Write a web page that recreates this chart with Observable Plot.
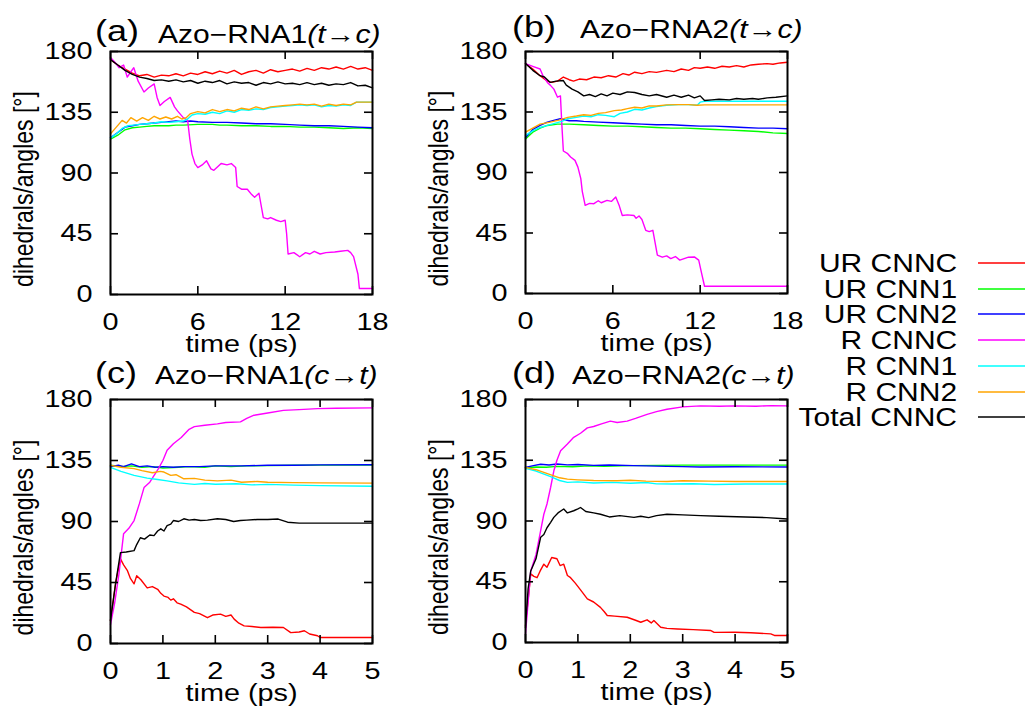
<!DOCTYPE html>
<html><head><meta charset="utf-8">
<script src="https://cdn.jsdelivr.net/npm/d3@7"></script>
<script src="https://cdn.jsdelivr.net/npm/@observablehq/plot@0.6"></script>
<style>
body{margin:0;background:#fff;}
#fig{position:relative;width:1025px;height:707px;overflow:hidden;background:#fff;font-family:"Liberation Sans",Arial,sans-serif;color:#000;}
#fig svg{position:absolute;overflow:visible;}
.t{position:absolute;white-space:nowrap;line-height:1;transform-origin:left top;transform:scaleX(1.2);}
.lg{position:absolute;white-space:nowrap;line-height:1;font-size:25px;transform-origin:right top;transform:scaleX(1.2);text-align:right;}
</style></head><body><div id="fig"></div>
<script>
// ---------- categories / labels ----------
const seriesNames = ["UR CNNC","UR CNN1","UR CNN2","R CNNC","R CNN1","R CNN2","Total CNNC"];
const panelTags = ["(a)","(b)","(c)","(d)"];
const panelTitles = ["Azo\u2212RNA1","Azo\u2212RNA2","Azo\u2212RNA1","Azo\u2212RNA2"];
const panelDirs = ["(t\u2192c)","(t\u2192c)","(c\u2192t)","(c\u2192t)"];
const xTicksTC = [0,6,12,18];
const xTicksCT = [0,1,2,3,4,5];
const yTicks = [0,45,90,135,180];
const yLabel = "dihedrals/angles [\u00b0]";
const xLabel = "time (ps)";

// ---------- panel (a) Azo-RNA1 t->c : [time ps, degrees] ----------
const a_UR_CNNC = [[0,174],[0.5,170],[1,167],[1.5,164],[2,162],[2.5,163],[3,161],[3.5,162.5],[4,162],[4.5,163.5],[5,162],[5.5,164],[6,163],[6.5,165],[7,163.5],[7.5,165.5],[8,164],[8.5,166],[9,163],[9.5,165],[10,166],[10.5,164],[11,166.5],[11.5,165],[12,166],[12.5,167],[13,165.5],[13.5,167.5],[14,166],[14.5,168],[15,167],[15.5,168.5],[16,167],[16.5,169],[17,167],[17.5,168],[18,166]];
const a_UR_CNN1 = [[0,115],[0.5,118],[1,122],[1.5,123.5],[2,124],[2.5,124.5],[3,125],[4,125],[4.5,125.5],[5,125.5],[6,126],[7,126],[7.5,125.5],[8,125.5],[9,125],[10,125],[11,124.5],[12,124.5],[13,124],[14,124],[15,123.5],[16,123],[17,123.5],[18,123]];
const a_UR_CNN2 = [[0,116],[0.5,120],[1,124],[1.5,125],[2,126],[2.5,126.5],[3,127],[3.5,127.5],[4,128],[4.5,128.5],[5,128],[5.5,128.5],[6,128],[7,127.5],[8,127.5],[9,127],[10,126.5],[11,126.5],[12,126],[13,125.5],[14,125],[15,125],[16,124.5],[17,124],[18,123.5]];
const a_R_CNNC = [[0,175.5],[0.3,172],[0.6,168],[0.9,170],[1.15,161],[1.4,165],[1.6,168],[1.9,158],[2.3,150],[2.6,153],[3.0,156],[3.2,146],[3.4,140],[3.7,143],[4.1,146],[4.4,139],[4.6,136],[5.0,131],[5.3,129],[5.45,115],[5.6,104],[5.8,97],[6.0,94],[6.3,96],[6.6,99],[6.9,93],[7.1,92],[7.4,95],[7.6,97],[8.0,96],[8.3,97],[8.6,94],[8.7,80],[9.0,78],[9.4,78],[9.7,74],[9.9,72],[10.2,75],[10.5,57],[10.8,56],[11.0,57],[11.4,55],[11.7,54],[12.0,55],[12.1,45],[12.2,30],[12.6,31],[13.0,28],[13.4,31],[13.7,30],[14.0,32],[14.4,30],[14.8,31],[15.4,31.5],[15.8,32],[16.3,32.7],[16.5,31],[16.7,28],[17.0,15],[17.1,4.4],[18,4.4]];
const a_R_CNN1 = [[0,116],[0.4,119],[0.8,123],[1.2,125],[1.6,125.5],[2.0,126],[2.5,126.5],[3.0,127],[3.5,128],[4.0,127.5],[4.5,128],[5.0,128.5],[5.3,130],[5.6,133],[6.0,134],[6.5,133.5],[7.0,135],[7.5,134],[8.0,136],[8.5,135],[9.0,137],[9.5,136.5],[10.0,137.5],[10.5,137],[11.0,138.5],[11.5,139],[12.0,139.5],[12.5,140],[13.0,140.5],[13.5,140],[14.0,140.5],[14.5,139],[15.0,140],[15.5,139.5],[16.0,140.5],[16.5,140],[16.9,142.5],[18,142.5]];
const a_R_CNN2 = [[0,119],[0.4,124],[0.8,129],[1.1,127],[1.4,131],[1.8,128.5],[2.2,131],[2.6,129],[3.0,132],[3.4,130],[3.8,131.5],[4.2,130],[4.6,132],[4.9,130],[5.2,131],[5.5,134],[6.0,135.5],[6.5,134.5],[7.0,137],[7.5,135.5],[8.0,137],[8.5,136],[9.0,138],[9.5,137],[10.0,139],[10.5,137.5],[11.0,139],[11.5,139.5],[12.0,140],[12.5,140.5],[13.0,141],[13.5,140.5],[14.0,141],[14.5,139.5],[15.0,141],[15.5,140],[16.0,141],[16.5,140.5],[16.9,142.5],[18,142.5]];
const a_Total = [[0,174],[0.5,170],[1,166],[1.5,163],[2,161],[2.5,160],[3,158.5],[3.5,159],[4,158],[4.5,159],[5,157.5],[5.5,158.5],[6,156.5],[6.5,158],[7,157],[7.5,158.5],[8,156],[8.5,157.5],[9,156.5],[9.5,157],[10,155],[10.5,157],[11,156],[11.5,157.5],[12,156],[12.5,156.5],[13,155.5],[13.5,157],[14,155.5],[14.5,156.5],[15,155],[15.5,156],[16,155.5],[16.5,157],[17,154.5],[17.5,155],[18,153]];

// ---------- panel (b) Azo-RNA2 t->c ----------
const b_UR_CNNC = [[0,171],[0.5,167],[1.0,162],[1.5,158],[1.8,157],[2.2,158],[2.6,161],[3.0,159],[3.3,158],[3.7,159.5],[4.2,159],[4.7,161],[5.2,160.5],[5.7,162],[6.2,161],[6.7,163.5],[7.1,162.5],[7.5,164.6],[8.0,163.5],[8.5,165],[9.0,164.5],[9.7,166],[10.2,165],[10.7,167],[11.2,166],[11.6,168],[12.0,167.5],[12.5,168.5],[13.0,167.5],[13.5,169],[14.0,168.5],[14.5,169.5],[15.0,168.5],[15.5,170],[16.0,170.5],[16.6,171],[17.0,170.5],[17.5,171.5],[18,172]];
const b_UR_CNN1 = [[0,115],[0.5,120],[1.0,123],[1.5,125],[2.2,126],[3,126],[4,125.5],[5,125],[6,124.5],[7,124.5],[8,124],[9,123.5],[10,123],[11,123],[12,122.5],[13,122],[14,121.5],[15,121],[16,120.5],[17,119.5],[18,119]];
const b_UR_CNN2 = [[0,116],[0.5,122],[1.0,125],[1.5,127.5],[2.0,129],[2.4,130],[3.0,128.5],[3.5,128.5],[4,128],[5,127.5],[6,127],[7,126.5],[8,126],[9,125.5],[10,125.5],[11,125],[12,124.5],[13,124.5],[14,124],[15,123.5],[16,123],[17,123],[18,122.5]];
const b_R_CNNC = [[0,171],[0.5,169],[1.0,167],[1.2,162],[1.5,157],[1.7,155],[1.95,152],[2.2,146],[2.4,147],[2.5,125],[2.6,106],[2.9,104],[3.1,101.5],[3.4,99],[3.6,94],[3.8,85.4],[3.9,76],[4.1,65.6],[4.4,67],[4.7,66.8],[5.0,69],[5.2,67.5],[5.6,69.3],[5.9,68.5],[6.2,71.8],[6.45,65],[6.65,58],[7.0,58.5],[7.45,58],[7.6,56],[7.8,57.7],[8.0,55],[8.26,47],[8.5,46],[8.75,47],[9.06,28.5],[9.4,27],[9.7,28],[9.98,26],[10.3,27.5],[10.6,24.8],[10.9,26],[11.2,27],[11.6,27.2],[11.9,24.8],[12.1,15],[12.3,5.4],[18,5.4]];
const b_R_CNN1 = [[0,117.6],[0.5,121],[1.0,123.5],[1.5,125],[2.0,126.5],[2.5,128],[2.9,130],[3.5,131],[4.0,132],[4.5,131.5],[5.0,133],[5.5,132.5],[6.1,131.5],[6.5,134],[7.0,135],[7.5,137],[8.0,136.5],[8.5,138],[9.0,139],[9.7,140],[10.5,140.5],[11.2,140.5],[11.8,140],[12.0,142.3],[12.3,143],[18,143]];
const b_R_CNN2 = [[0,120],[0.5,123],[1.0,126],[1.7,127.5],[2.3,129],[2.9,131],[3.5,132],[4.0,133],[4.5,132.5],[5.0,134],[5.5,134.5],[6.1,136],[6.6,136.5],[7.0,137.5],[7.5,138.5],[8.0,138],[8.5,139.5],[9.0,139.5],[9.7,140.3],[10.5,140.5],[11.2,140.5],[11.8,140],[12.3,140.3],[18,140.3]];
const b_Total = [[0,171],[0.5,166],[1.0,162],[1.3,161],[1.7,157],[2.1,158],[2.6,158.4],[2.8,155],[3.2,152],[3.6,150],[4.0,147],[4.4,148],[4.8,146.5],[5.2,148.5],[5.6,147],[6.0,149],[6.5,148],[7.0,150],[7.5,149.5],[8.0,148],[8.5,147],[9.0,148],[9.7,146],[10.2,147.5],[10.7,146],[11.2,147.5],[11.6,145.5],[12.0,147],[12.3,143.6],[12.8,144],[13.3,144.5],[14.0,144],[14.5,145],[15.0,144.5],[15.6,145],[16.0,144.5],[16.6,145.5],[17.2,146],[18,147]];

// ---------- panel (c) Azo-RNA1 c->t ----------
const c_UR_CNNC = [[0,17],[0.1,45],[0.19,62.4],[0.25,58],[0.32,54],[0.38,48],[0.45,44],[0.5,50],[0.58,47],[0.7,41],[0.8,42],[0.9,40],[0.96,37],[1.02,35],[1.1,34],[1.15,32],[1.2,33],[1.27,30],[1.34,29],[1.45,27],[1.6,23],[1.7,22],[1.85,19],[1.95,21],[2.1,21.7],[2.2,20],[2.3,21],[2.36,18],[2.45,15],[2.55,13],[2.7,12.5],[2.87,11.8],[3.1,12],[3.3,11.8],[3.44,8],[3.6,8.5],[3.7,9.4],[3.8,7],[3.95,5.7],[4.0,4.4],[5,4.4]];
const c_UR_CNN1 = [[0,131.5],[0.2,130.5],[0.4,131],[0.6,130],[0.8,130.5],[1.0,129.5],[1.3,130],[1.5,130.5],[1.8,130],[2.0,131],[2.3,130.5],[2.6,131],[3.0,131.2],[3.5,131.5],[4.0,131.6],[5,131.7]];
const c_UR_CNN2 = [[0,130.5],[0.15,131.5],[0.25,130.5],[0.4,132.5],[0.55,130.5],[0.7,131],[0.85,130],[1.0,130.5],[1.2,130],[1.4,130.5],[1.7,130.5],[2.0,131],[2.5,131],[3.0,131.5],[3.5,131.5],[4.0,131.8],[5,131.9]];
const c_R_CNNC = [[0,14],[0.08,30],[0.16,51],[0.25,81],[0.35,85],[0.45,90.7],[0.55,103],[0.64,115],[0.75,119],[0.9,128],[1.0,135],[1.08,142.5],[1.2,147.4],[1.35,152],[1.5,158],[1.6,160],[1.8,161],[2.04,162],[2.2,163],[2.48,163.5],[2.6,166],[2.74,168.4],[3.0,170],[3.3,172],[3.6,172.5],[3.95,173.3],[4.3,173.5],[5,173.8]];
const c_R_CNN1 = [[0,130],[0.2,127],[0.45,124],[0.7,122],[0.9,121],[1.08,120],[1.3,118.5],[1.6,117.4],[1.8,118],[2.0,117.5],[2.4,117.8],[2.7,117],[3.0,117.4],[3.5,116.8],[4.0,116.5],[5,116]];
const c_R_CNN2 = [[0,131.4],[0.2,130],[0.45,129],[0.6,127.5],[0.8,126],[0.95,127],[1.02,126.5],[1.15,124],[1.25,124.5],[1.4,121.5],[1.6,121.8],[1.8,120.5],[2.04,120],[2.3,120.5],[2.5,119],[2.8,119.5],[3.0,119],[3.5,118.7],[4.0,118.5],[5,118.3]];
const c_Total = [[0,17],[0.1,45],[0.19,67],[0.3,67.5],[0.45,68.5],[0.5,73],[0.57,78],[0.65,77],[0.75,80],[0.83,79.6],[0.9,83],[0.96,84.6],[1.02,83],[1.08,87],[1.15,88],[1.2,90.7],[1.3,90],[1.4,92],[1.5,91],[1.6,91.5],[1.72,90.7],[1.85,91],[2.04,92],[2.2,91.5],[2.35,90],[2.48,90.7],[2.6,91],[2.8,91.5],[3.0,91.5],[3.2,91.8],[3.38,89.5],[3.6,88.8],[5,88.8]];

// ---------- panel (d) Azo-RNA2 c->t ----------
const d_UR_CNNC = [[0,12.6],[0.1,50.8],[0.16,49],[0.22,48],[0.28,53],[0.35,58],[0.41,55.7],[0.45,59],[0.5,63],[0.6,62],[0.66,57],[0.73,58],[0.8,49.6],[0.86,48],[0.95,44],[1.05,39],[1.18,32.3],[1.3,30],[1.43,26],[1.5,23],[1.56,20],[1.7,19.5],[1.94,18.7],[2.1,16.5],[2.2,15],[2.32,16.8],[2.4,14.5],[2.45,16.3],[2.58,11.3],[2.7,10.5],[2.9,10],[3.2,9.5],[3.53,8.9],[3.6,7.5],[4.0,7.6],[4.3,7.2],[4.68,6.4],[4.75,5.2],[5,5.2]];
const d_UR_CNN1 = [[0,129.5],[0.2,130],[0.4,129.8],[0.6,130.5],[0.9,130.2],[1.2,130.8],[1.5,130.5],[2.0,131],[2.5,131.2],[3.0,131.4],[4.0,131.4],[5,131.4]];
const d_UR_CNN2 = [[0,129.7],[0.15,131],[0.29,132],[0.45,131.5],[0.6,132.2],[0.8,131.6],[1.0,131.8],[1.3,131.2],[1.6,131.5],[2.07,131],[2.3,130.8],[2.7,130.5],[3.0,130.3],[3.34,130],[4.0,130.2],[5,130]];
const d_R_CNNC = [[0,6.4],[0.05,30],[0.1,53],[0.2,65],[0.29,83],[0.35,95],[0.41,102.6],[0.48,115],[0.54,127],[0.6,135],[0.67,142],[0.8,147],[0.92,152],[1.05,155],[1.18,159],[1.3,160],[1.45,162],[1.62,164],[1.75,163],[1.94,164],[2.1,166],[2.32,169],[2.5,171],[2.7,172.8],[3.0,174.5],[3.34,175.3],[3.7,175],[3.98,175.3],[4.4,175],[4.7,175.5],[5,175.3]];
const d_R_CNN1 = [[0,129],[0.2,127],[0.48,122.8],[0.65,120],[0.8,118.6],[1.0,119],[1.3,118.2],[1.65,118.6],[2.0,118],[2.3,118.5],[2.5,117.5],[2.8,117.4],[3.2,117.6],[3.6,117],[4.2,117.4],[5,117.4]];
const d_R_CNN2 = [[0,129.7],[0.2,128],[0.35,126],[0.5,124],[0.65,122],[0.8,121],[1.0,120.5],[1.3,120],[1.75,119.8],[2.0,120.2],[2.3,119.5],[2.7,119.3],[3.0,119.8],[3.5,119.5],[4.0,119.3],[5,119.3]];
const d_Total = [[0,11],[0.05,40],[0.1,53],[0.2,62],[0.29,78],[0.35,80],[0.41,85],[0.48,89],[0.54,92.7],[0.62,96],[0.73,98.9],[0.8,96],[0.92,97.6],[1.0,99],[1.05,100],[1.15,97],[1.3,96],[1.43,95],[1.6,93],[1.8,94],[2.07,92.7],[2.2,93.5],[2.35,92.5],[2.5,94],[2.7,95],[3.0,94.5],[3.34,94],[3.7,93.5],[4.2,93],[4.6,92.5],[5,91.5]];

// ---------- styles & layout (kept apart from the data) ----------
const colors = ["#ff0000","#00ff00","#0000ff","#ff00ff","#00ffff","#ffa500","#000000"];
const FONT = '"Liberation Sans", Arial, sans-serif';
const STRETCH = 1.2;
const layout = [
  {left:0,   top:0,   width:400, height:360, ml:110, mr:28, mt:51, mb:66, tagX:95,  tagY:16,  ttlX:158, ttlY:21.5},
  {left:415, top:0,   width:400, height:360, ml:110, mr:28, mt:51, mb:67, tagX:512, tagY:12,  ttlX:580, ttlY:17},
  {left:0,   top:348, width:400, height:359, ml:110, mr:28, mt:51, mb:64, tagX:95,  tagY:358, ttlX:155, ttlY:362.5},
  {left:415, top:348, width:400, height:359, ml:110, mr:28, mt:51, mb:65, tagX:512, tagY:358, ttlX:572, ttlY:362.5}
];
const panels = [
  {xMax:18, xTicks:xTicksTC, lines:[a_UR_CNNC,a_UR_CNN1,a_UR_CNN2,a_R_CNNC,a_R_CNN1,a_R_CNN2,a_Total]},
  {xMax:18, xTicks:xTicksTC, lines:[b_UR_CNNC,b_UR_CNN1,b_UR_CNN2,b_R_CNNC,b_R_CNN1,b_R_CNN2,b_Total]},
  {xMax:5,  xTicks:xTicksCT, lines:[c_UR_CNNC,c_UR_CNN1,c_UR_CNN2,c_R_CNNC,c_R_CNN1,c_R_CNN2,c_Total]},
  {xMax:5,  xTicks:xTicksCT, lines:[d_UR_CNNC,d_UR_CNN1,d_UR_CNN2,d_R_CNNC,d_R_CNN1,d_R_CNN2,d_Total]}
];

const fig = document.getElementById("fig");

// widen every text horizontally on screen (the reference figure is stretched sideways)
function stretchText(svg) {
  svg.querySelectorAll("text").forEach(t => {
    let tr = t.getAttribute("transform");
    if (!tr) {
      const x = +(t.getAttribute("x") || 0), y = +(t.getAttribute("y") || 0);
      t.removeAttribute("x"); t.removeAttribute("y");
      tr = `translate(${x},${y})`;
    }
    const m = t.getCTM();
    const rotated = m && Math.abs(m.b) > 0.5;
    tr += rotated ? ` scale(1,${STRETCH})` : ` scale(${STRETCH},1)`;
    t.setAttribute("transform", tr);
  });
}

panels.forEach((p, k) => {
  const L = layout[k];
  const fw = L.width - L.ml - L.mr, fh = L.height - L.mt - L.mb;
  const marks = [];
  p.lines.forEach((data, i) => {
    marks.push(Plot.line(data, {x: d => d[0], y: d => d[1], stroke: colors[i], strokeWidth: 1.4, strokeLinejoin: "round"}));
  });
  const tk = {stroke: "black", strokeWidth: 1.6};
  marks.push(
    Plot.tickX(p.xTicks, {x: d => d, insetTop: fh - 8, ...tk}),
    Plot.tickX(p.xTicks, {x: d => d, insetBottom: fh - 8, ...tk}),
    Plot.tickY(yTicks, {y: d => d, insetRight: fw - 8, ...tk}),
    Plot.tickY(yTicks, {y: d => d, insetLeft: fw - 8, ...tk}),
    Plot.axisX({ticks: p.xTicks, tickFormat: d => String(d), tickSize: 0, tickPadding: 18, fontSize: 24, label: null}),
    Plot.axisY({ticks: yTicks, tickFormat: d => String(d), tickSize: 0, tickPadding: 18, fontSize: 24, label: null}),
    Plot.text([yLabel], {text: d => d, frameAnchor: "left", rotate: -90, dx: -86, dy: 16, textAnchor: "middle", lineAnchor: "middle", fontSize: 23}),
    Plot.text([xLabel], {text: d => d, frameAnchor: "bottom", dy: 40, textAnchor: "middle", lineAnchor: "top", fontSize: 24}),
    Plot.frame({stroke: "black", strokeWidth: 2})
  );
  const svg = Plot.plot({
    width: L.width, height: L.height,
    marginLeft: L.ml, marginRight: L.mr, marginTop: L.mt, marginBottom: L.mb,
    x: {domain: [0, p.xMax]},
    y: {domain: [0, 180]},
    style: {fontFamily: FONT, fontSize: "24px", background: "transparent", color: "black", overflow: "visible"},
    marks
  });
  svg.style.left = L.left + "px";
  svg.style.top = L.top + "px";
  fig.appendChild(svg);
  stretchText(svg);

  const tag = document.createElement("div");
  tag.className = "t";
  tag.style.cssText = `left:${L.tagX}px;top:${L.tagY}px;font-size:30px;`;
  tag.textContent = panelTags[k];
  fig.appendChild(tag);
  const ttl = document.createElement("div");
  ttl.className = "t";
  ttl.style.cssText = `left:${L.ttlX}px;top:${L.ttlY}px;font-size:25px;`;
  ttl.innerHTML = panelTitles[k] + "<i>" + panelDirs[k] + "</i>";
  fig.appendChild(ttl);
});

// legend
const legRight = 957, legTop = 263, legStep = 25.7, swX = 978, swX2 = 1028;
const NS = "http://www.w3.org/2000/svg";
const legSvg = document.createElementNS(NS, "svg");
legSvg.setAttribute("width", 1025); legSvg.setAttribute("height", 707);
legSvg.style.left = "0px"; legSvg.style.top = "0px"; legSvg.style.pointerEvents = "none";
seriesNames.forEach((name, i) => {
  const cy = Math.round(legTop + i * legStep);
  const t = document.createElement("div");
  t.className = "lg";
  t.style.right = (1025 - legRight) + "px";
  t.style.top = (cy - 12.3) + "px";
  t.textContent = name;
  fig.appendChild(t);
  const ln = document.createElementNS(NS, "line");
  ln.setAttribute("x1", swX); ln.setAttribute("x2", swX2);
  ln.setAttribute("y1", cy); ln.setAttribute("y2", cy);
  ln.setAttribute("stroke", colors[i]); ln.setAttribute("stroke-width", 1.5);
  legSvg.appendChild(ln);
});
fig.appendChild(legSvg);
</script>
</body></html>
